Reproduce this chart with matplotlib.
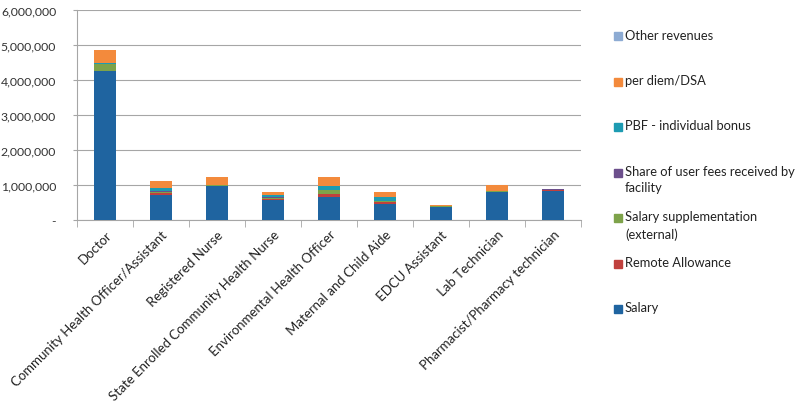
import numpy as np
import matplotlib
matplotlib.use("Agg")
import matplotlib.pyplot as plt
from matplotlib.patches import Rectangle

plt.rcParams['font.family'] = ['Lato', 'DejaVu Sans']

# cadres along the x axis
cadres = ["Doctor", "Community Health Officer/Assistant", "Registered Nurse",
          "State Enrolled Community Health Nurse", "Environmental Health Officer",
          "Maternal and Child Aide", "EDCU Assistant", "Lab Technician",
          "Pharmacist/Pharmacy technician"]

# income components (in currency units)
salary       = [4250000, 720000, 960000, 560000, 640000, 460000, 370000, 800000, 830000]
remote       = [0, 40000, 0, 40000, 100000, 60000, 0, 0, 20000]
salary_supp  = [200000, 20000, 20000, 30000, 110000, 20000, 20000, 10000, 0]
user_fees    = [0, 40000, 0, 30000, 0, 0, 0, 0, 20000]
pbf          = [20000, 100000, 0, 50000, 120000, 120000, 0, 0, 0]
per_diem     = [380000, 200000, 240000, 80000, 260000, 120000, 30000, 180000, 10000]
other_rev    = [0, 0, 0, 0, 0, 0, 0, 0, 0]

series = [
    ("Salary", salary, "#1f64a0"),
    ("Remote Allowance", remote, "#c0403d"),
    ("Salary supplementation\n(external)", salary_supp, "#7ea34a"),
    ("Share of user fees received by\nfacility", user_fees, "#6c4f8c"),
    ("PBF - individual bonus", pbf, "#1d9bb2"),
    ("per diem/DSA", per_diem, "#f38a3c"),
    ("Other revenues", other_rev, "#8dabd3"),
]

fig = plt.figure(figsize=(8.0, 4.02), dpi=100)
ax = fig.add_axes([0.09625, 0.451, 0.63, 0.522])

x = np.arange(len(cadres))
bottom = np.zeros(len(cadres))
for name, vals, col in series:
    vals = np.array(vals, dtype=float)
    ax.bar(x, vals, 0.41, bottom=bottom, color=col, zorder=3)
    bottom += vals

ax.set_xlim(-0.5, len(cadres) - 0.5)
ax.set_ylim(0, 6000000)
yt = np.arange(0, 6000001, 1000000)
ax.set_yticks(yt)
ax.set_yticklabels(["-"] + [f"{v:,.0f}" for v in yt[1:]], fontsize=8.8, color="#333333")
ax.yaxis.grid(True, color="#a6a6a6", lw=0.8, zorder=0)
ax.tick_params(axis="y", length=3, color="#a6a6a6", pad=12)

ax.set_xticks(x)
ax.set_xticklabels(cadres, rotation=45, ha="right", rotation_mode="anchor",
                   fontsize=9.5, color="#222222")
ax.set_xticks(np.arange(-0.5, len(cadres)), minor=True)
ax.tick_params(axis="x", which="major", length=0, pad=6)
ax.tick_params(axis="x", which="minor", length=5, color="#a6a6a6")

for s in ["top", "right"]:
    ax.spines[s].set_visible(False)
for s in ["left", "bottom"]:
    ax.spines[s].set_color("#a6a6a6")
    ax.spines[s].set_linewidth(0.8)

# legend drawn as Excel lays it out: evenly spaced slots, top entry first
W, H = 800.0, 402.0
for i, (name, vals, col) in enumerate(reversed(series)):
    yfirst = 37 + 45.5 * i
    fig.add_artist(Rectangle((614 / W, 1 - (yfirst + 4) / H), 8 / W, 8 / H,
                             transform=fig.transFigure, color=col))
    fig.text(625 / W, 1 - (yfirst - 7.5) / H, name, fontsize=9.3, color="#222222",
             va="top", ha="left", linespacing=1.45)

fig.savefig("out.png", dpi=100)
